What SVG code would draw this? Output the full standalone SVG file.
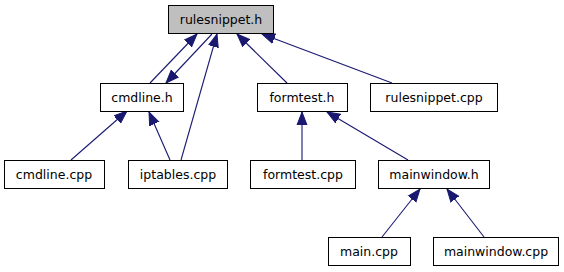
<svg xmlns="http://www.w3.org/2000/svg" width="564" height="272" viewBox="0 0 564 272">
  <defs>
    <style>
      .node rect { fill: #ffffff; stroke: #000000; stroke-width: 1; }
      .node.root rect { fill: #bfbfbf; }
      .node text { font-family: "DejaVu Sans", sans-serif; font-size: 12.5px; fill: #000000; text-anchor: middle; }
      .edges line { stroke: #191970; stroke-width: 1.1; fill: none; marker-end: url(#arrow); }
    </style>
    <marker id="arrow" markerUnits="userSpaceOnUse" markerWidth="14" markerHeight="12" viewBox="0 0 14 12" refX="13" refY="6" orient="auto">
      <path d="M0,1 L13,6 L0,11 Z" fill="#191970" stroke="#191970" stroke-width="1"/>
    </marker>
  </defs>
  <rect width="564" height="272" fill="#ffffff"/>

  <!-- dependency edges: includer -> included header -->
  <g class="edges">
    <line x1="150" y1="83" x2="197" y2="34"/>
    <line x1="212" y1="34" x2="166" y2="83"/>
    <line x1="181" y1="160" x2="217" y2="34"/>
    <line x1="287" y1="83" x2="237" y2="34"/>
    <line x1="392" y1="83" x2="262" y2="34"/>
    <line x1="71" y1="160" x2="127" y2="111"/>
    <line x1="170" y1="160" x2="149" y2="112"/>
    <line x1="302" y1="160" x2="302" y2="112"/>
    <line x1="408" y1="160" x2="327" y2="112"/>
    <line x1="382" y1="237" x2="420" y2="189"/>
    <line x1="484" y1="237" x2="447" y2="189"/>
  </g>

  <g id="rulesnippet_h" class="node root">
    <rect x="168.5" y="5.5" width="105" height="28"/>
    <text x="221" y="24">rulesnippet.h</text>
  </g>
  <g id="cmdline_h" class="node">
    <rect x="100.5" y="83.5" width="83" height="28"/>
    <text x="142" y="102">cmdline.h</text>
  </g>
  <g id="formtest_h" class="node">
    <rect x="257.5" y="83.5" width="90" height="28"/>
    <text x="302" y="102">formtest.h</text>
  </g>
  <g id="rulesnippet_cpp" class="node">
    <rect x="370.5" y="83.5" width="127" height="28"/>
    <text x="434" y="102">rulesnippet.cpp</text>
  </g>
  <g id="cmdline_cpp" class="node">
    <rect x="4.5" y="160.5" width="100" height="28"/>
    <text x="54" y="179">cmdline.cpp</text>
  </g>
  <g id="iptables_cpp" class="node">
    <rect x="128.5" y="160.5" width="99" height="28"/>
    <text x="178" y="179">iptables.cpp</text>
  </g>
  <g id="formtest_cpp" class="node">
    <rect x="250.5" y="160.5" width="105" height="28"/>
    <text x="303" y="179">formtest.cpp</text>
  </g>
  <g id="mainwindow_h" class="node">
    <rect x="378.5" y="160.5" width="111" height="28"/>
    <text x="434" y="179">mainwindow.h</text>
  </g>
  <g id="main_cpp" class="node">
    <rect x="328.5" y="237.5" width="82" height="28"/>
    <text x="369" y="256">main.cpp</text>
  </g>
  <g id="mainwindow_cpp" class="node">
    <rect x="433.5" y="237.5" width="125" height="28"/>
    <text x="496" y="256">mainwindow.cpp</text>
  </g>
</svg>
